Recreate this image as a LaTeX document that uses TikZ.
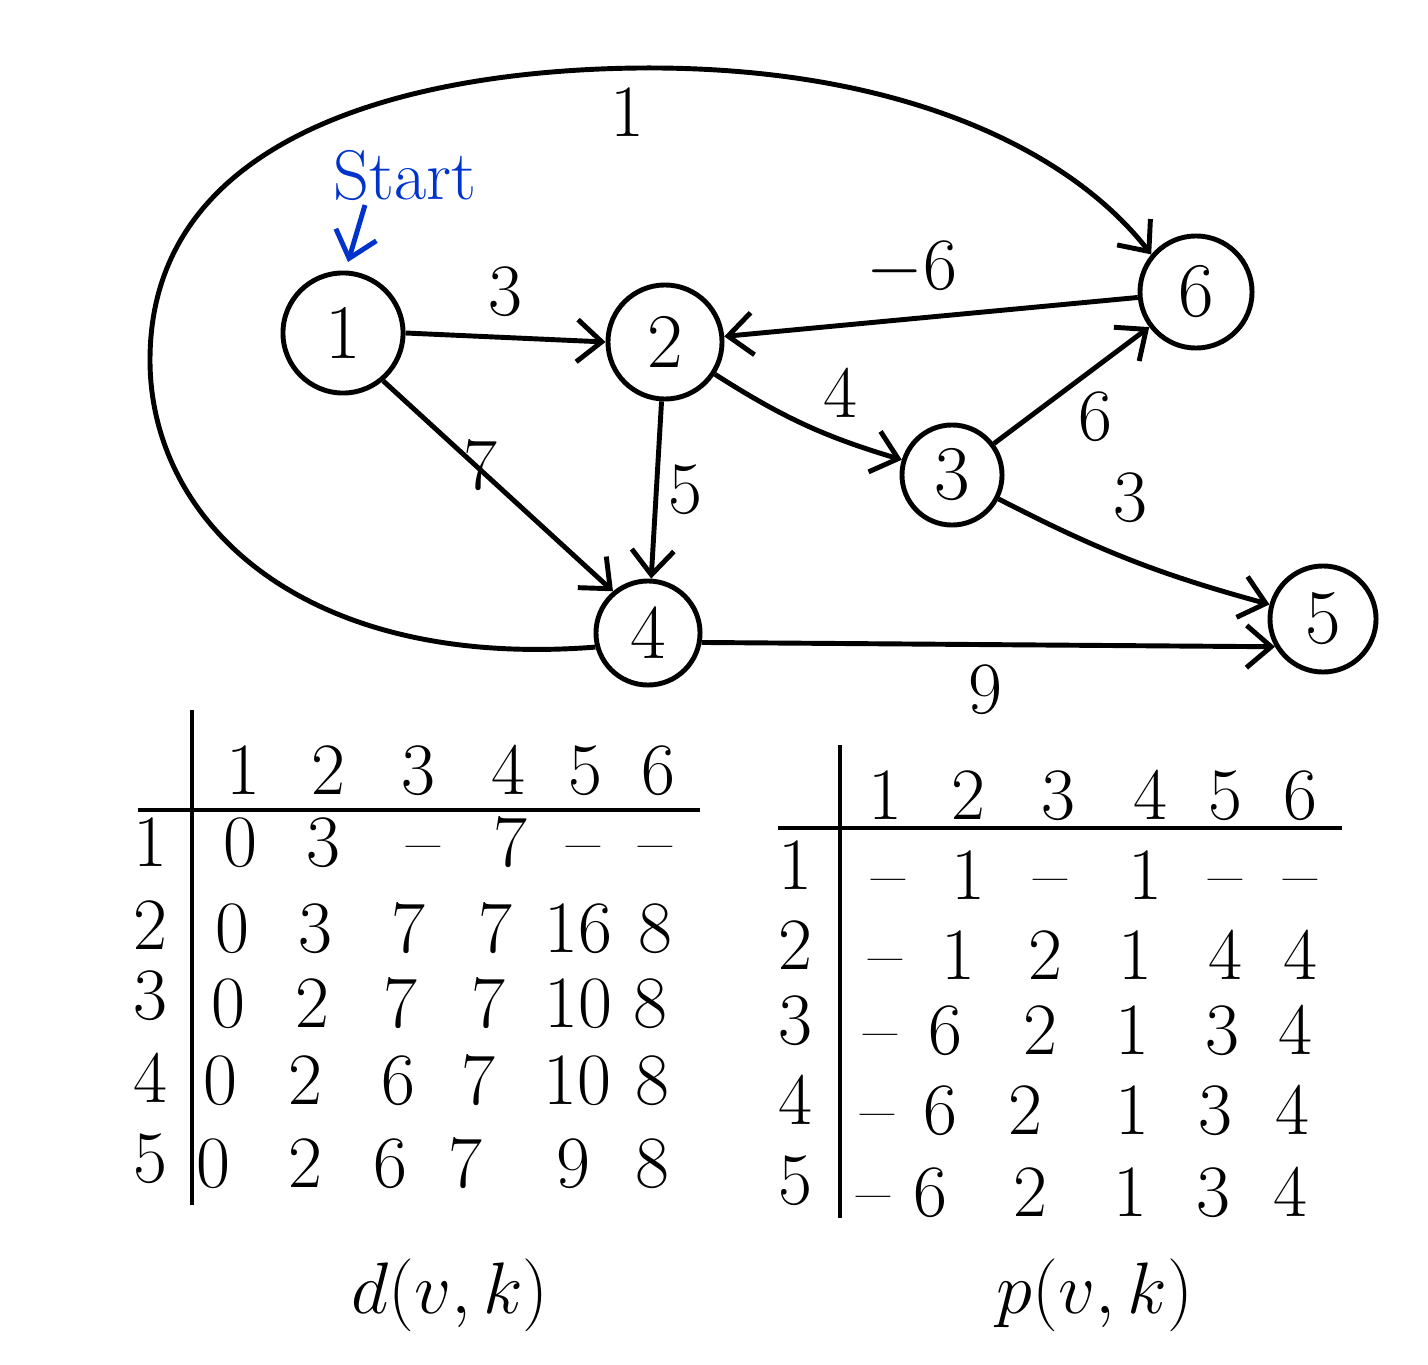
\documentclass[tikz,border=0pt]{standalone}
\usetikzlibrary{arrows.meta}
\begin{document}
\begin{tikzpicture}[x=0.01cm,y=-0.01cm,
  vert/.style={draw,circle,line width=1.4pt,inner sep=0pt,font=\fontsize{22}{26}\selectfont},
  arr/.style={line width=1.4pt,-{Straight Barb[length=7pt,width=12pt,line width=1.4pt]}},
  wl/.style={font=\fontsize{21}{26}\selectfont},
  tv/.style={font=\fontsize{21}{26}\selectfont,text height=14pt,text depth=0pt},
  tl/.style={line width=1.4pt}]
\useasboundingbox (0,0) rectangle (1428,1364);
% vertices
\node[vert,minimum size=1.2cm] (n1) at (343,333) {1};
\node[vert,minimum size=1.14cm] (n2) at (665,342) {2};
\node[vert,minimum size=1.12cm] (n6) at (1196,292) {6};
\node[vert,minimum size=1.0cm] (n3) at (952,475) {3};
\node[vert,minimum size=1.04cm] (n4) at (648,633) {4};
\node[vert,minimum size=1.06cm] (n5) at (1323,619) {5};
% edges
\draw[arr] (n1.east) -- (n2.west);
\draw[arr] (n1.-50) -- (n4.130);
\draw[arr] (n2) -- (n4);
\draw[arr] (n2) to[bend right=8] (n3);
\draw[arr] (n6) -- (n2);
\draw[arr] (n3) -- (n6);
\draw[arr] (n3) to[bend right=6] (n5);
\draw[arr] (n4.-10) -- (n5.-150);
\draw[arr] (n4.195) .. controls (300,670) and (150,520) .. (150,360)
  .. controls (150,130) and (420,70) .. (640,68)
  .. controls (900,66) and (1070,150) .. (n6.140);
% edge labels
\node[wl] (w12) at (505,292) {3};
\node[wl] (w14) at (480,465) {7};
\node[wl] (w24) at (685,490) {5};
\node[wl] (w23) at (840,393) {4};
\node[wl] (w62) at (912,268) {$-$6};
\node[wl] (w36) at (1095,417) {6};
\node[wl] (w35) at (1130,498) {3};
\node[wl] (w45) at (985,690) {9};
\node[wl] (w46) at (627,112) {1};
% start
\node[text=blue!75!cyan!80!black,font=\fontsize{20}{24}\selectfont] (start) at (405,175) {Start};
\coordinate (sa) at (365,205);
\coordinate (sb) at (348,262);
\draw[line width=1.4pt,blue!75!cyan!80!black,-{Straight Barb[length=7pt,width=12pt,line width=1.4pt]}] (sa) -- (sb);
% table d
\coordinate (dv1) at (192,710); \coordinate (dv2) at (192,1205);
\coordinate (dh1) at (138,810); \coordinate (dh2) at (700,810);
\draw[tl] (dv1) -- (dv2);
\draw[tl] (dh1) -- (dh2);
\foreach \x/\t in {243/1,328/2,418/3,508/4,585/5,658/6}
  \node[tv] at (\x,770) {\t};
\foreach \y/\t in {842/1,925/2,995/3,1078/4,1158/5}
  \node[tv] at (150,\y) {\t};
\foreach \x/\t in {240/0,323/3,423/--,510/7,583/--,655/--}
  \node[tv] at (\x,842) {\t};
\foreach \x/\t in {232/0,315/3,408/7,495/7,578/16,655/8}
  \node[tv] at (\x,928) {\t};
\foreach \x/\t in {228/0,312/2,400/7,488/7,578/10,650/8}
  \node[tv] at (\x,1003) {\t};
\foreach \x/\t in {220/0,305/2,398/6,478/7,577/10,652/8}
  \node[tv] at (\x,1080) {\t};
\foreach \x/\t in {213/0,305/2,390/6,465/7,573/9,652/8}
  \node[tv] at (\x,1163) {\t};
\node[font=\fontsize{21}{26}\selectfont] (dcap) at (450,1295) {$d(v,k)$};
% table p
\coordinate (pv1) at (840,745); \coordinate (pv2) at (840,1218);
\coordinate (ph1) at (778,828); \coordinate (ph2) at (1342,828);
\draw[tl] (pv1) -- (pv2);
\draw[tl] (ph1) -- (ph2);
\foreach \x/\t in {885/1,968/2,1058/3,1150/4,1225/5,1300/6}
  \node[tv] at (\x,795) {\t};
\foreach \y/\t in {865/1,945/2,1020/3,1100/4,1180/5}
  \node[tv] at (795,\y) {\t};
\foreach \x/\t in {888/--,968/1,1050/--,1145/1,1225/--,1300/--}
  \node[tv] at (\x,875) {\t};
\foreach \x/\t in {885/--,958/1,1045/2,1135/1,1225/4,1300/4}
  \node[tv] at (\x,955) {\t};
\foreach \x/\t in {880/--,945/6,1040/2,1132/1,1222/3,1295/4}
  \node[tv] at (\x,1030) {\t};
\foreach \x/\t in {877/--,940/6,1025/2,1132/1,1215/3,1292/4}
  \node[tv] at (\x,1110) {\t};
\foreach \x/\t in {873/--,930/6,1030/2,1130/1,1213/3,1290/4}
  \node[tv] at (\x,1192) {\t};
\node[font=\fontsize{21}{26}\selectfont] (pcap) at (1095,1295) {$p(v,k)$};
\end{tikzpicture}
\end{document}
